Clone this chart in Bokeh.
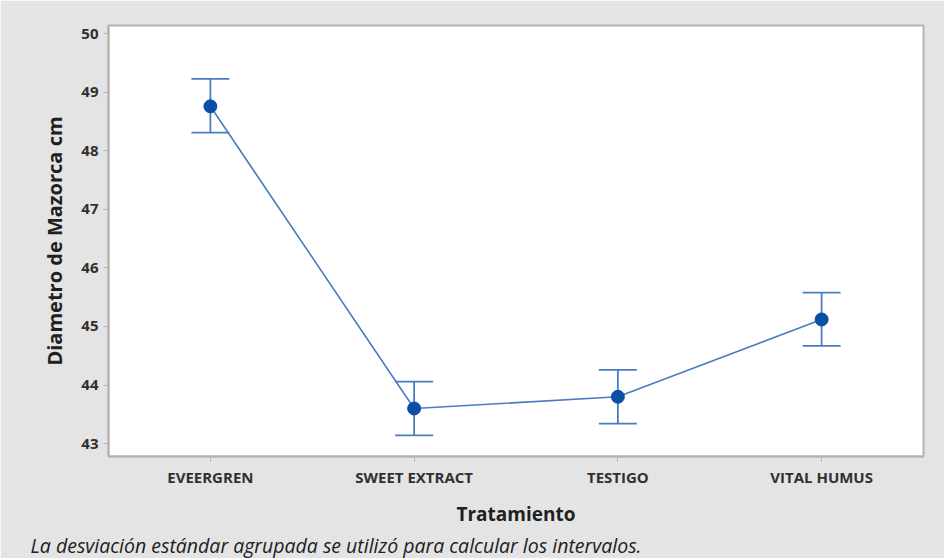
from bokeh.plotting import figure
from bokeh.models import Range1d, FactorRange, ColumnDataSource, Whisker, Title, FixedTicker, TeeHead
from bokeh.embed import file_html
from bokeh.resources import INLINE

categories = ["EVEERGREN", "SWEET EXTRACT", "TESTIGO", "VITAL HUMUS"]
means = [48.76, 43.60, 43.80, 45.12]
lower = [48.31, 43.14, 43.34, 44.67]
upper = [49.23, 44.06, 44.26, 45.58]
y_ticks = [43, 44, 45, 46, 47, 48, 49, 50]
caption = "La desviación estándar agrupada se utilizó para calcular los intervalos."
x_title = "Tratamiento"
y_title = "Diametro de Mazorca cm"

FONT = "Open Sans"
BG = "#e4e4e4"
LINE = "#4a7dbf"
DOT = "#0a4fa6"

src = ColumnDataSource(dict(x=categories, m=means, lo=lower, hi=upper))

p = figure(x_range=FactorRange(*categories), y_range=Range1d(42.78, 50.14),
           frame_width=815, frame_height=431,
           output_backend="svg", toolbar_location=None,
           min_border_left=108, min_border_right=21, min_border_top=25, min_border_bottom=95)

p.border_fill_color = BG
p.background_fill_color = "white"
p.outline_line_color = "#b4b4b4"
p.outline_line_width = 2
p.grid.visible = False

p.line("x", "m", source=src, line_color=LINE, line_width=1.6)
w = Whisker(base="x", lower="lo", upper="hi", source=src, line_color=LINE, line_width=1.8,
            upper_head=TeeHead(size=38, line_color=LINE, line_width=1.8),
            lower_head=TeeHead(size=38, line_color=LINE, line_width=1.8))
p.add_layout(w)
p.scatter("x", "m", source=src, size=13, fill_color=DOT, line_color=DOT, marker="circle")

for ax in (p.xaxis[0], p.yaxis[0]):
    ax.axis_line_color = "#b4b4b4"
    ax.axis_line_width = 2
    ax.major_tick_line_color = "#b4b4b4"
    ax.minor_tick_line_color = None
    ax.major_tick_out = 5
    ax.major_tick_in = 0
    ax.major_label_text_font = FONT
    ax.major_label_text_color = "#303030"
    ax.major_label_text_font_style = "bold"
    ax.axis_label_text_font = FONT
    ax.axis_label_text_font_style = "bold"
    ax.axis_label_text_color = "#202020"

p.yaxis[0].ticker = FixedTicker(ticks=y_ticks)
p.yaxis[0].major_label_text_font_size = "15px"
p.yaxis[0].major_label_standoff = 5
p.yaxis[0].axis_label = y_title
p.yaxis[0].axis_label_text_font_size = "20px"
p.yaxis[0].axis_label_standoff = 10
p.xaxis[0].major_label_text_font_size = "15px"
p.xaxis[0].major_label_standoff = 5
p.xaxis[0].axis_label = x_title
p.xaxis[0].axis_label_text_font_size = "19px"
p.xaxis[0].axis_label_standoff = 11

p.add_layout(Title(text=caption, text_font=FONT, text_font_style="italic", text_font_size="19.5px",
                   text_color="#202020", align="left", offset=-78, standoff=0), "below")

open("out.html", "w").write(file_html(p, INLINE))
